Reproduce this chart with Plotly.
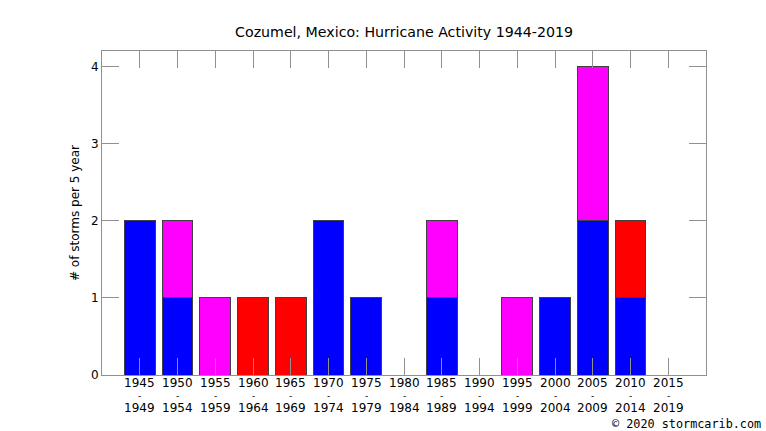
import plotly.graph_objects as go

# 5-Jahres-Perioden
start_years = ["1945", "1950", "1955", "1960", "1965", "1970", "1975", "1980",
               "1985", "1990", "1995", "2000", "2005", "2010", "2015"]
end_years = ["1949", "1954", "1959", "1964", "1969", "1974", "1979", "1984",
             "1989", "1994", "1999", "2004", "2009", "2014", "2019"]

# Anzahl Stürme je Periode (gestapelt)
blue_counts = [2, 1, 0, 0, 0, 2, 1, 0, 1, 0, 0, 1, 2, 1, 0]
magenta_counts = [0, 1, 1, 0, 0, 0, 0, 0, 1, 0, 1, 0, 2, 0, 0]
red_counts = [0, 0, 0, 1, 1, 0, 0, 0, 0, 0, 0, 0, 0, 1, 0]

y_ticks = [0, 1, 2, 3, 4]

x_pos = list(range(len(start_years)))

fig = go.Figure()
for vals, col in [(blue_counts, "#0000ff"), (magenta_counts, "#ff00ff"), (red_counts, "#ff0000")]:
    fig.add_trace(go.Bar(x=x_pos, y=vals, width=0.82,
                         marker=dict(color=col, line=dict(color="#404040", width=1)),
                         showlegend=False))

# Achsenbeschriftung in drei Zeilen (eng gesetzt wie im Original)
for i in x_pos:
    fig.add_annotation(x=i, y=0, xref="x", yref="paper", text=start_years[i], showarrow=False,
                       yanchor="middle", yshift=-8, borderpad=0, font=dict(size=12))
    fig.add_annotation(x=i, y=0, xref="x", yref="paper", text="-", showarrow=False,
                       yanchor="middle", yshift=-20.5, borderpad=0, font=dict(size=9))
    fig.add_annotation(x=i, y=0, xref="x", yref="paper", text=end_years[i], showarrow=False,
                       yanchor="middle", yshift=-33, borderpad=0, font=dict(size=12))

fig.add_annotation(x=1, y=0, xref="paper", yref="paper", text="© 2020 stormcarib.com",
                   showarrow=False, xanchor="right", yanchor="middle", xshift=56, yshift=-49,
                   borderpad=0, font=dict(family="DejaVu Sans Mono", size=11.8, color="black"))

fig.update_layout(
    barmode="stack",
    width=766, height=431,
    margin=dict(l=102, r=60, t=51, b=56),
    paper_bgcolor="white", plot_bgcolor="white",
    font=dict(family="DejaVu Sans", color="black", size=12),
    title=dict(text="Cozumel, Mexico: Hurricane Activity 1944-2019", x=0.5275, xanchor="center",
               y=0.925, yanchor="middle", font=dict(size=14.2)),
    xaxis=dict(range=[-1, 15], tickmode="array", tickvals=x_pos, showticklabels=False,
               ticks="inside", ticklen=17, tickcolor="#909090", tickwidth=1,
               showline=True, linecolor="#909090", linewidth=1, mirror="ticks",
               showgrid=False, zeroline=False, automargin=False),
    yaxis=dict(range=[0, 4.2], tickmode="array", tickvals=y_ticks,
               ticks="inside", ticklen=17, tickcolor="#909090", tickwidth=1,
               showline=True, linecolor="#909090", linewidth=1, mirror="ticks",
               showgrid=False, zeroline=False, automargin=False,
               title=dict(text="# of storms per 5 year", font=dict(size=12), standoff=8)),
)

fig.write_html("out.html", config={"displayModeBar": False},
               post_script="document.body.style.margin='0';")
